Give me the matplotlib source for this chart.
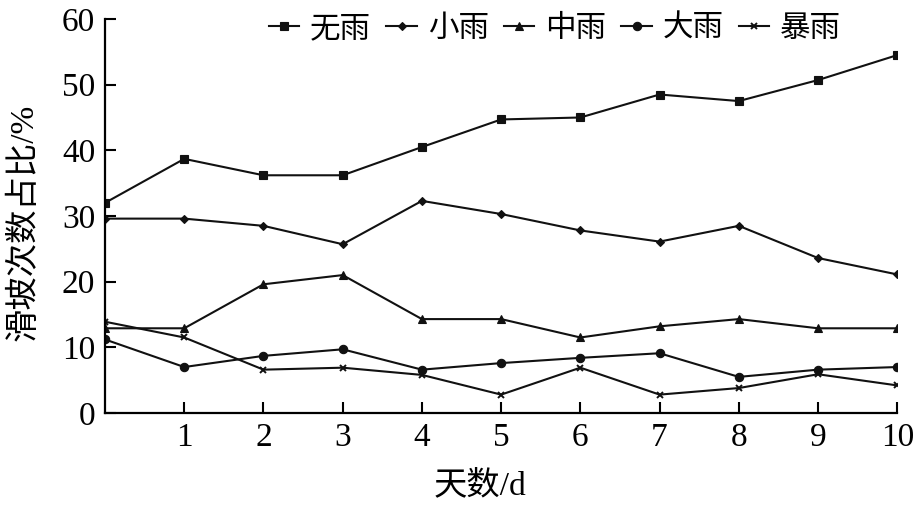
import matplotlib.pyplot as plt
import numpy as np

plt.rcParams['font.family'] = ['Liberation Serif', 'Noto Sans CJK SC']
plt.rcParams['font.size'] = 22

# ----------------------------------------------------------
# data
# ----------------------------------------------------------
days = [0, 1, 2, 3, 4, 5, 6, 7, 8, 9, 10]
no_rain = [32.0, 38.7, 36.2, 36.2, 40.5, 44.7, 45.0, 48.5, 47.5, 50.7, 54.5]
light_rain = [29.6, 29.6, 28.5, 25.7, 32.3, 30.3, 27.8, 26.1, 28.5, 23.6, 21.1]
moderate_rain = [12.9, 12.9, 19.6, 21.0, 14.3, 14.3, 11.5, 13.2, 14.3, 12.9, 12.9]
heavy_rain = [11.2, 7.0, 8.7, 9.7, 6.6, 7.6, 8.4, 9.1, 5.5, 6.6, 7.0]
storm = [13.9, 11.5, 6.6, 6.9, 5.8, 2.8, 6.9, 2.8, 3.8, 5.9, 4.2]

series = [
    ("无雨", no_rain, "s", 6),
    ("小雨", light_rain, "D", 4.5),
    ("中雨", moderate_rain, "^", 6),
    ("大雨", heavy_rain, "o", 6),
    ("暴雨", storm, "x", 5),
]

fig = plt.figure(figsize=(9.18, 5.09), dpi=100)
ax = fig.add_axes([0.1144, 0.1886, 0.8630, 0.7741])

for name, vals, mk, ms in series:
    ax.plot(days, vals, color="#111111", linewidth=1.5, marker=mk,
            markersize=ms, markeredgewidth=1.4 if mk == "x" else 0.8,
            label=name)

ax.set_xlim(0, 10)
ax.set_ylim(0, 60)
ax.set_xticks(range(1, 11))
ax.set_yticks(range(0, 61, 10))

for s in ["top", "right"]:
    ax.spines[s].set_visible(False)
for s in ["left", "bottom"]:
    ax.spines[s].set_linewidth(1.6)

ax.tick_params(direction="in", length=8, width=1.5, labelsize=24)
ax.tick_params(axis="x", pad=7)
ax.tick_params(axis="y", pad=7)

ax.set_xlabel("天数/d", fontsize=24)
ax.set_ylabel("滑坡次数占比/%", fontsize=24)
ax.xaxis.set_label_coords(0.473, -0.145)
ax.yaxis.set_label_coords(-0.082, 0.485)

ax.legend(loc="upper center", bbox_to_anchor=(0.568, 1.08), ncol=5,
          frameon=False, handlelength=1.0, handletextpad=0.35,
          columnspacing=0.5, fontsize=22)

plt.savefig("out.png", dpi=100)
